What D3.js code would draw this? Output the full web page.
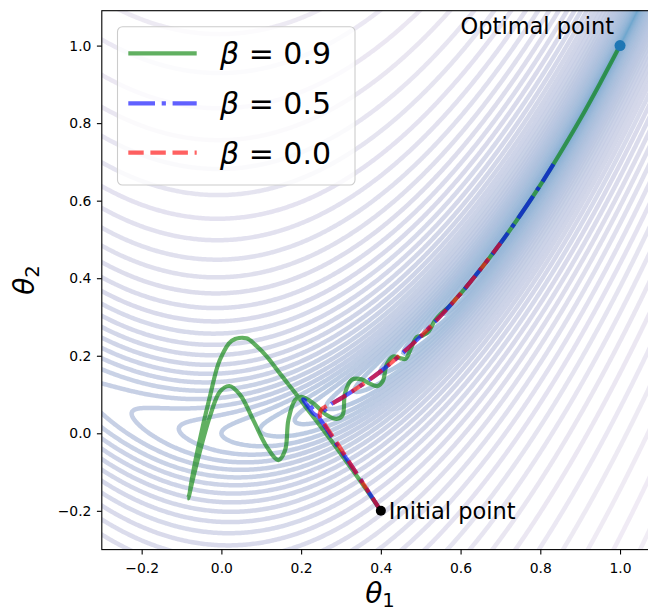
<!DOCTYPE html>
<html>
<head>
<meta charset="utf-8">
<script src="https://cdn.jsdelivr.net/npm/d3@7"></script>
<style>
  body { margin: 0; background: #fff; }
  svg { display: block; font-family: "DejaVu Sans", sans-serif; }
</style>
</head>
<body>
<div id="chart"></div>
<script>
// tick labels on both axes
const xTicks = [-0.2, 0.0, 0.2, 0.4, 0.6, 0.8, 1.0];
const yTicks = [-0.2, 0.0, 0.2, 0.4, 0.6, 0.8, 1.0];

// legend entries, one per momentum value
const betas = ['0.9', '0.5', '0.0'];

// start and end of the descent
const initialPoint = [0.4, -0.2];
const optimalPoint = [1.0, 1.0];

// trajectories, [theta1, theta2]
const pathGreen = [
  [0.400, -0.200], [0.360, -0.140], [0.320, -0.082], [0.280, -0.025], [0.240, 0.030],
  [0.210, 0.070], [0.189, 0.099], [0.150, 0.150], [0.114, 0.198], [0.085, 0.228],
  [0.063, 0.245], [0.026, 0.239], [-0.004, 0.189], [-0.029, 0.094], [-0.058, -0.035],
  [-0.083, -0.168], [-0.066, -0.095], [-0.029, 0.043], [-0.004, 0.107], [0.020, 0.122],
  [0.047, 0.099], [0.080, 0.034], [0.114, -0.035], [0.143, -0.069], [0.160, -0.043],
  [0.168, 0.034], [0.185, 0.086], [0.201, 0.094], [0.231, 0.077], [0.264, 0.047],
  [0.289, 0.037], [0.304, 0.047], [0.310, 0.103], [0.327, 0.138], [0.352, 0.139],
  [0.372, 0.128], [0.392, 0.122], [0.405, 0.135], [0.415, 0.178], [0.431, 0.198],
  [0.448, 0.194], [0.462, 0.192], [0.475, 0.218], [0.490, 0.248], [0.505, 0.252],
  [0.520, 0.263], [0.535, 0.290], [0.550, 0.308], [0.570, 0.326], [0.600, 0.360],
  [0.650, 0.423], [0.700, 0.490], [0.750, 0.563], [0.800, 0.640], [0.850, 0.723],
  [0.900, 0.810], [0.950, 0.903], [1.000, 1.000]
];
const pathBlue = [
  [0.400, -0.200], [0.340, -0.105], [0.290, -0.030], [0.245, 0.040], [0.215, 0.080],
  [0.205, 0.088], [0.218, 0.068], [0.232, 0.050], [0.245, 0.045], [0.258, 0.058],
  [0.275, 0.075], [0.300, 0.090], [0.350, 0.123], [0.400, 0.160], [0.450, 0.203],
  [0.500, 0.250], [0.550, 0.303], [0.600, 0.360], [0.650, 0.423], [0.700, 0.490],
  [0.750, 0.563], [0.800, 0.640], [0.833, 0.694]
];
const pathRed = [
  [0.400, -0.200], [0.340, -0.105], [0.290, -0.025], [0.260, 0.022], [0.247, 0.045],
  [0.250, 0.060], [0.262, 0.069], [0.280, 0.078], [0.300, 0.090], [0.350, 0.123],
  [0.400, 0.160], [0.450, 0.203], [0.500, 0.250], [0.550, 0.303], [0.600, 0.360],
  [0.650, 0.423], [0.700, 0.490]
];

// contour levels, log spaced like np.logspace(-3, 3, 69)
const levels = d3.range(69).map(i => Math.pow(10, -3 + i * 6 / 68));

const width = 648, height = 612;

let svg = d3.select('#chart')
  .append('svg')
  .attr('width', width)
  .attr('height', height);

let x = d3.scaleLinear().domain([-0.3, 1.1]).range([101.8, 659.9]);
let y = d3.scaleLinear().domain([-0.3, 1.09]).range([549.6, 10.7]);

svg.append('clipPath')
  .attr('id', 'plot-clip')
  .append('rect')
  .attr('x', x(-0.3))
  .attr('y', y(1.09))
  .attr('width', x(1.1) - x(-0.3))
  .attr('height', y(-0.3) - y(1.09));

let plot = svg.append('g').attr('clip-path', 'url(#plot-clip)');

// Rosenbrock loss surface on a grid a bit larger than the view
function loss(a, b) {
  return (1 - a) * (1 - a) + 100 * (b - a * a) * (b - a * a);
}
const gx0 = -0.5, gy0 = -0.5, step = 0.004, n = 451;
const grid = new Float64Array(n * n);
for (let j = 0; j < n; j++) {
  for (let i = 0; i < n; i++) {
    grid[i + j * n] = loss(gx0 + i * step, gy0 + j * step);
  }
}

let contours = d3.contours().size([n, n]).thresholds(levels)(grid);

let toScreen = d3.geoTransform({
  point: function (px, py) {
    this.stream.point(x(gx0 + (px - 0.5) * step), y(gy0 + (py - 0.5) * step));
  }
});
let geo = d3.geoPath(toScreen);

// low loss -> blue, high loss -> pale lavender
function levelColor(c) {
  return d3.interpolatePuBu(0.33 - 0.1 * Math.log10(c));
}

plot.append('g')
  .selectAll('path')
  .data(contours)
  .enter().append('path')
  .attr('d', geo)
  .attr('fill', 'none')
  .attr('stroke', d => levelColor(d.value))
  .attr('stroke-opacity', 0.85)
  .attr('stroke-width', 4.5);

// descent trajectories
let line = d3.line()
  .x(d => x(d[0]))
  .y(d => y(d[1]))
  .curve(d3.curveCatmullRom.alpha(0.5));

const styles = [
  { data: pathGreen, color: '#008000', dash: null },
  { data: pathBlue, color: '#0000ff', dash: '26.7,6.7,4.2,6.7' },
  { data: pathRed, color: '#ff0000', dash: '15.4,6.7' }
];

styles.forEach(s => {
  plot.append('path')
    .attr('d', line(s.data))
    .attr('fill', 'none')
    .attr('stroke', s.color)
    .attr('stroke-opacity', 0.62)
    .attr('stroke-width', 4.2)
    .attr('stroke-dasharray', s.dash);
});

plot.append('circle')
  .attr('cx', x(optimalPoint[0]))
  .attr('cy', y(optimalPoint[1]))
  .attr('r', 5.5)
  .attr('fill', '#1f77b4');

plot.append('circle')
  .attr('cx', x(initialPoint[0]))
  .attr('cy', y(initialPoint[1]))
  .attr('r', 5)
  .attr('fill', '#000');

plot.append('text')
  .attr('x', x(0.6))
  .attr('y', y(1.03))
  .attr('font-size', '22.5px')
  .text('Optimal point');

plot.append('text')
  .attr('x', x(0.42))
  .attr('y', y(-0.22))
  .attr('font-size', '22.5px')
  .text('Initial point');

// axes
let xAxis = svg.append('g')
  .attr('transform', 'translate(0,' + y(-0.3) + ')')
  .call(d3.axisBottom(x).tickValues(xTicks).tickFormat(d3.format('.1f'))
    .tickSize(4.9).tickPadding(9.1).tickSizeOuter(0));

let yAxis = svg.append('g')
  .attr('transform', 'translate(' + x(-0.3) + ',0)')
  .call(d3.axisLeft(y).tickValues(yTicks).tickFormat(d3.format('.1f'))
    .tickSize(4.9).tickPadding(5.5).tickSizeOuter(0));

[xAxis, yAxis].forEach(a => {
  a.select('.domain').remove();
  a.selectAll('line').attr('stroke', '#000').attr('stroke-width', 1.1);
  a.selectAll('text')
    .attr('font-family', '"DejaVu Sans", sans-serif')
    .attr('font-size', '13.9px')
    .attr('fill', '#000');
});

// frame
svg.append('rect')
  .attr('x', x(-0.3))
  .attr('y', y(1.09))
  .attr('width', x(1.1) - x(-0.3))
  .attr('height', y(-0.3) - y(1.09))
  .attr('fill', 'none')
  .attr('stroke', '#000')
  .attr('stroke-width', 1.1);

// axis labels
let xl = svg.append('text')
  .attr('x', 380)
  .attr('y', 603)
  .attr('text-anchor', 'middle')
  .attr('font-size', '28px');
xl.append('tspan').attr('font-style', 'italic').text('θ');
xl.append('tspan').attr('font-size', '19.6px').attr('dy', 4).text('1');

let yl = svg.append('text')
  .attr('transform', 'translate(33.5,280) rotate(-90)')
  .attr('text-anchor', 'middle')
  .attr('font-size', '28px');
yl.append('tspan').attr('font-style', 'italic').text('θ');
yl.append('tspan').attr('font-size', '19.6px').attr('dy', 5).text('2');

// legend
let legend = svg.append('g');
legend.append('rect')
  .attr('x', 117.5)
  .attr('y', 26.7)
  .attr('width', 237.5)
  .attr('height', 158.3)
  .attr('rx', 5)
  .attr('fill', '#fff')
  .attr('fill-opacity', 0.8)
  .attr('stroke', '#cccccc')
  .attr('stroke-width', 1.1);

const rowY = [53.3, 103.3, 152.7];
betas.forEach((b, i) => {
  legend.append('line')
    .attr('x1', 128.3)
    .attr('x2', 196.7)
    .attr('y1', rowY[i])
    .attr('y2', rowY[i])
    .attr('stroke', styles[i].color)
    .attr('stroke-opacity', 0.62)
    .attr('stroke-width', 4.2)
    .attr('stroke-dasharray', styles[i].dash);
  let t = legend.append('text')
    .attr('x', 220)
    .attr('y', rowY[i] + 11)
    .attr('font-size', '30px');
  t.append('tspan').attr('font-style', 'italic').text('β');
  t.append('tspan').text(' = ' + b);
});
</script>
</body>
</html>
